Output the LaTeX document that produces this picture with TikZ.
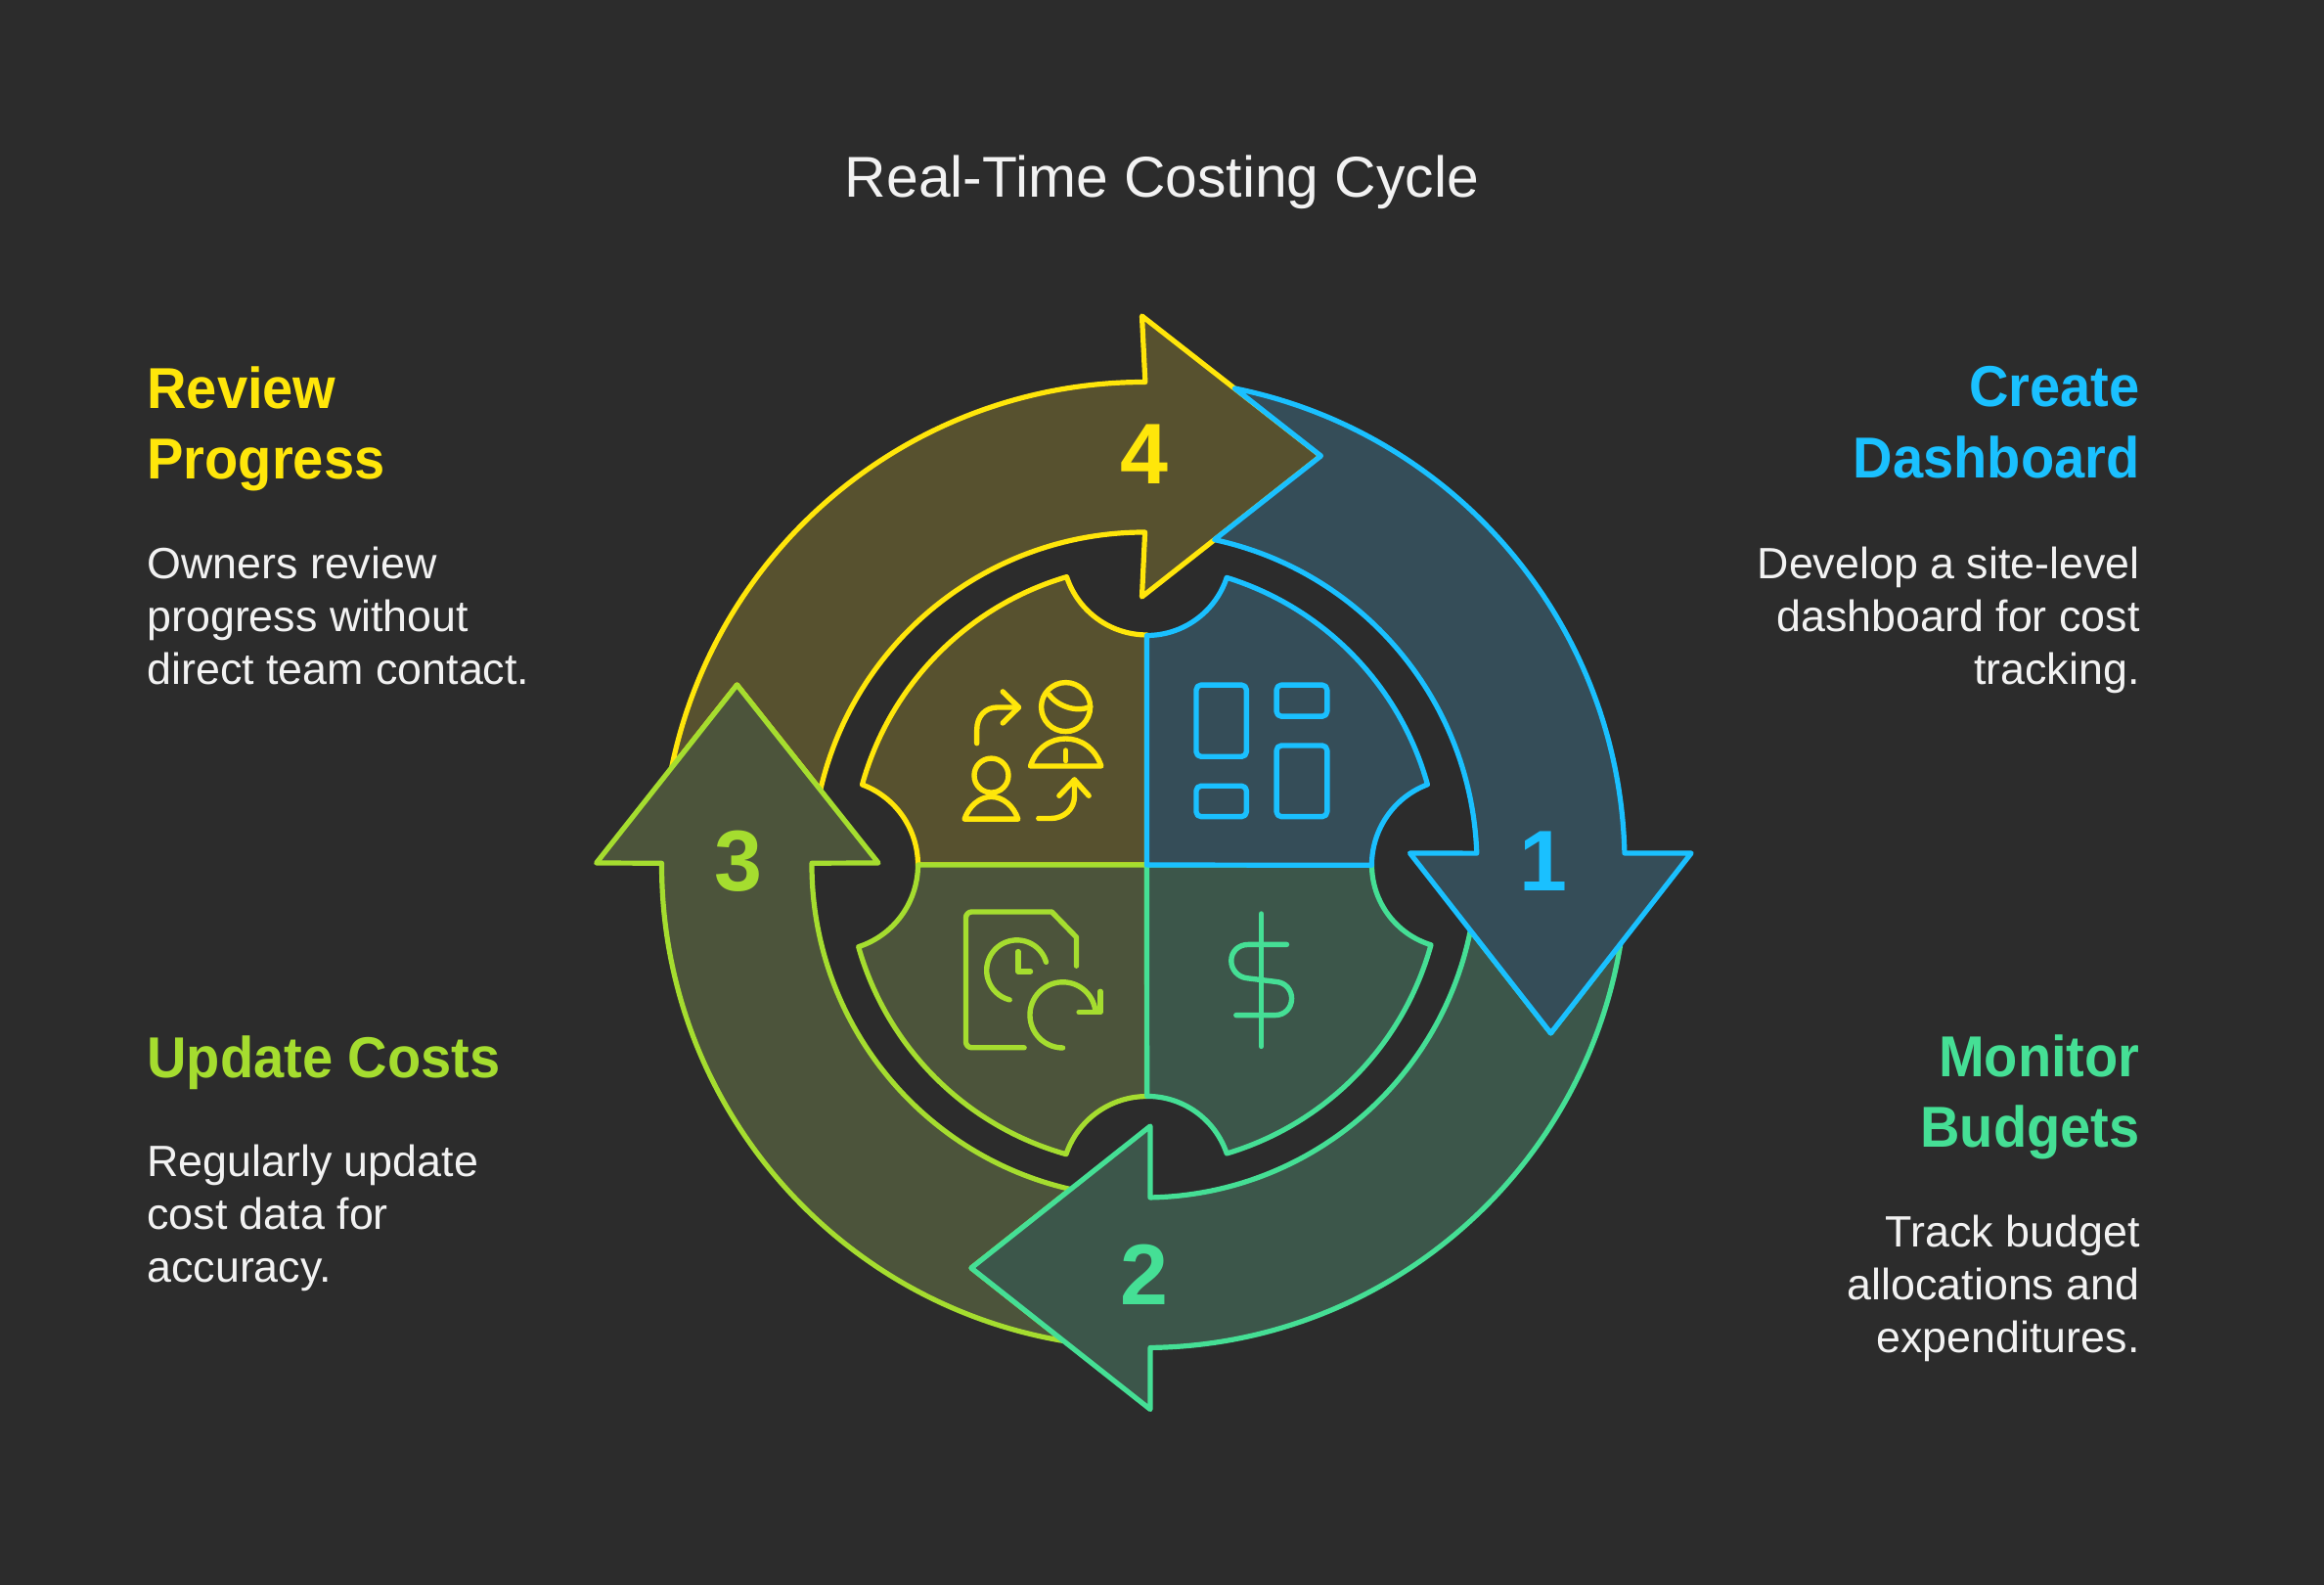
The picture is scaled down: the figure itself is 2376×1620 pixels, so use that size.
\documentclass[tikz,border=0pt]{standalone}
\usepackage{fontspec}
\setmainfont[BoldFeatures={FakeStretch=0.95}]{Liberation Sans}
\newfontfamily\numfont{Liberation Sans}
\definecolor{bgdark}{HTML}{2C2C2C}
\definecolor{cyellow}{HTML}{FFE60A}
\definecolor{fyellow}{HTML}{57512F}
\definecolor{clime}{HTML}{A5DD2F}
\definecolor{flime}{HTML}{4C543B}
\definecolor{cgreen}{HTML}{45DF95}
\definecolor{fgreen}{HTML}{3C564A}
\definecolor{cblue}{HTML}{1AC0FF}
\definecolor{fblue}{HTML}{354D58}
\tikzset{
  shapeline/.style={line width=2.6pt,line join=round},
  iconline/.style={line width=2.7pt,line cap=round,line join=round},
  headtxt/.style={font=\bfseries\fontsize{29.5}{36.3}\selectfont,inner sep=0pt},
  bodytxt/.style={font=\fontsize{22.4}{27}\selectfont,inner sep=0pt,text=white!95!black},
  numtxt/.style={font=\numfont\bfseries\fontsize{44}{44}\selectfont,inner sep=0pt},
}
\begin{document}
\begin{tikzpicture}[x=0.5pt,y=0.5pt]
  \useasboundingbox (-1172.5,-736) rectangle (1203.5,884);
  \fill[bgdark] (-1172.5,-736) rectangle (1203.5,884);
  % ring of arrows
  \begin{scope}[xshift=-1.25pt]
    \draw[shapeline,draw=cyellow,fill=fyellow] (168.37:493.5) arc[start angle=168.37,end angle=89.9,radius=493.5]
      -- (-2.5,561) -- (180.5,418) -- (-2.5,274) -- (89.9:340) arc[start angle=89.9,end angle=166.97,radius=340]
      -- (-416.5,184) -- cycle;
    \draw[shapeline,draw=clime,fill=flime] (260.35:493.5) arc[start angle=260.35,end angle=179.8,radius=493.5]
      -- (-560.3,2) -- (-416.5,184) -- (-272,2) -- (179.7:340) arc[start angle=179.7,end angle=257.2,radius=340]
      -- (-177,-412) -- cycle;
    \draw[shapeline,draw=cgreen,fill=fgreen] (350.62:493.5) arc[start angle=350.62,end angle=270.7,radius=493.5]
      -- (6,-556.5) -- (-177,-412) -- (6,-267) -- (271:340) arc[start angle=271,end angle=348.63,radius=340]
      -- (415.5,-172) -- cycle;
    \draw[shapeline,draw=cblue,fill=fblue] (92.5,487) arc[start angle=78.6,end angle=1.38,radius=496.8]
      -- (559.1,12) -- (415.5,-172) -- (271.5,12) -- (2:340) arc[start angle=2,end angle=77.84,radius=340]
      -- (180.5,418) -- cycle;
  \end{scope}
  % inner tiles
  \draw[shapeline,draw=cyellow,fill=fyellow] (0,0) -- (-234,0)
    arc[start angle=0,end angle=69.6,radius=87.5]
    arc[start angle=164.5,end angle=106.4,radius=306.9]
    arc[start angle=198.2,end angle=270,radius=86.3] -- cycle;
  \draw[shapeline,draw=clime,fill=flime] (0,0) -- (-234,0)
    arc[start angle=0,end angle=-72,radius=88]
    arc[start angle=195.8,end angle=254.27,radius=307.2]
    arc[start angle=161.3,end angle=90,radius=87.1] -- cycle;
  \draw[shapeline,draw=cgreen,fill=fgreen] (0,0) -- (230,0)
    arc[start angle=180,end angle=253,radius=85.5]
    arc[start angle=-15.4,end angle=-73.4,radius=307.8]
    arc[start angle=18.6,end angle=90,radius=86] -- cycle;
  \draw[shapeline,draw=cblue,fill=fblue] (0,0) -- (0,234.5)
    arc[start angle=270,end angle=341.8,radius=86]
    arc[start angle=72.75,end angle=15.54,radius=307.8]
    arc[start angle=110.7,end angle=180,radius=88.2] -- cycle;
  % dashboard icon
  \draw[iconline,cblue,rounded corners=2.5pt] (50.5,110.7) rectangle (101.9,183.9);
  \draw[iconline,cblue,rounded corners=2.5pt] (132.6,151.8) rectangle (184.3,183.9);
  \draw[iconline,cblue,rounded corners=2.5pt] (50.5,49.3) rectangle (101.9,80.7);
  \draw[iconline,cblue,rounded corners=2.5pt] (132.6,49.3) rectangle (184.3,122);
  % dollar icon
  \draw[iconline,cgreen] (117,-50) -- (117,-185.4);
  \draw[iconline,cgreen] (143,-81.4) -- (104,-81.4) .. controls (93,-81.4) and (86.3,-89) .. (86.3,-98)
    .. controls (86.3,-107) and (93,-114.5) .. (102,-115.7) -- (133.4,-119.6)
    .. controls (142,-120.7) and (148.1,-128) .. (148.1,-136.5)
    .. controls (148.1,-146) and (141,-153.6) .. (131.3,-153.6) -- (91.3,-153.6);
  % document and clock icon
  \draw[iconline,clime] (-125.4,-186.8) -- (-179,-186.8) arc[start angle=270,end angle=180,radius=6] -- (-185,-54)
    arc[start angle=180,end angle=90,radius=6] -- (-97.2,-48) -- (-72,-73.9) -- (-72,-103.2);
  \draw[iconline,clime] (-103,-99.3) arc[start angle=16,end angle=256,radius=31];
  \draw[iconline,clime] (-131.7,-88.6) -- (-131.7,-108.9) -- (-119,-108.9);
  \draw[iconline,clime] (-52.6,-149) arc[start angle=7.5,end angle=270,radius=33.6];
  \draw[iconline,clime] (-47.6,-129.3) -- (-47.6,-150.7) -- (-69.4,-150.7);
  % people icon
  \draw[iconline,cyellow] (-82.9,161.4) circle[radius=25];
  \draw[iconline,cyellow] (-100.2,174.3) .. controls (-92,163) and (-73,155) .. (-57.7,161.8);
  \draw[iconline,cyellow] (-119,101) .. controls (-113,120) and (-98,129) .. (-83,129)
    .. controls (-68,129) and (-53,120) .. (-46.7,101) -- cycle;
  \draw[iconline,cyellow] (-82.9,117) -- (-82.9,106.4);
  \draw[iconline,cyellow] (-159,91.4) circle[radius=17.5];
  \draw[iconline,cyellow] (-186.4,46.8) .. controls (-182,60) and (-171,69.6) .. (-159,69.6)
    .. controls (-147,69.6) and (-136,60) .. (-131.7,46.8) -- cycle;
  \draw[iconline,cyellow] (-173.8,124.3) -- (-173.8,138) .. controls (-173.8,152) and (-165,161) .. (-152.8,161) -- (-131,161);
  \draw[iconline,cyellow] (-147.3,177.1) -- (-131,161) -- (-147.3,145);
  \draw[iconline,cyellow] (-110.7,47.5) -- (-98,47.5) .. controls (-85,47.5) and (-74,57) .. (-74,70) -- (-74,87);
  \draw[iconline,cyellow] (-89.6,70.7) -- (-74,87) -- (-59.3,70.7);
  % numbers
  \node[numtxt,text=cblue] (numone) at (405,4) {1};
  \node[numtxt,text=cgreen] (numtwo) at (-2.5,-419) {2};
  \node[numtxt,text=clime] (numthree) at (-418,4) {3};
  \node[numtxt,text=cyellow] (numfour) at (-2.5,420) {4};
  % title and captions
  \node[font=\fontsize{29.4}{36}\selectfont,inner sep=0pt,text=white!95!black] (title) at (15.5,698) {Real-Time Costing Cycle};
  \node[headtxt,text=cyellow,anchor=north west,align=left] (reviewhead) at (-1022.5,510) {Review\\Progress};
  \node[bodytxt,anchor=north west,align=left] (reviewtext) at (-1022.5,325) {Owners review\\progress without\\direct team contact.};
  \node[headtxt,text=clime,anchor=north west,align=left] (updatehead) at (-1022.5,-174) {Update Costs};
  \node[bodytxt,anchor=north west,align=left] (updatetext) at (-1022.5,-286) {Regularly update\\cost data for\\accuracy.};
  \node[headtxt,text=cblue,anchor=north east,align=right] (createhead) at (1015.5,510) {Create\\Dashboard};
  \node[bodytxt,anchor=north east,align=right] (createtext) at (1015.5,325) {Develop a site-level\\dashboard for cost\\tracking.};
  \node[headtxt,text=cgreen,anchor=north east,align=right] (monitorhead) at (1015.5,-173) {Monitor\\Budgets};
  \node[bodytxt,anchor=north east,align=right] (monitortext) at (1015.5,-358) {Track budget\\allocations and\\expenditures.};
\end{tikzpicture}
\end{document}
